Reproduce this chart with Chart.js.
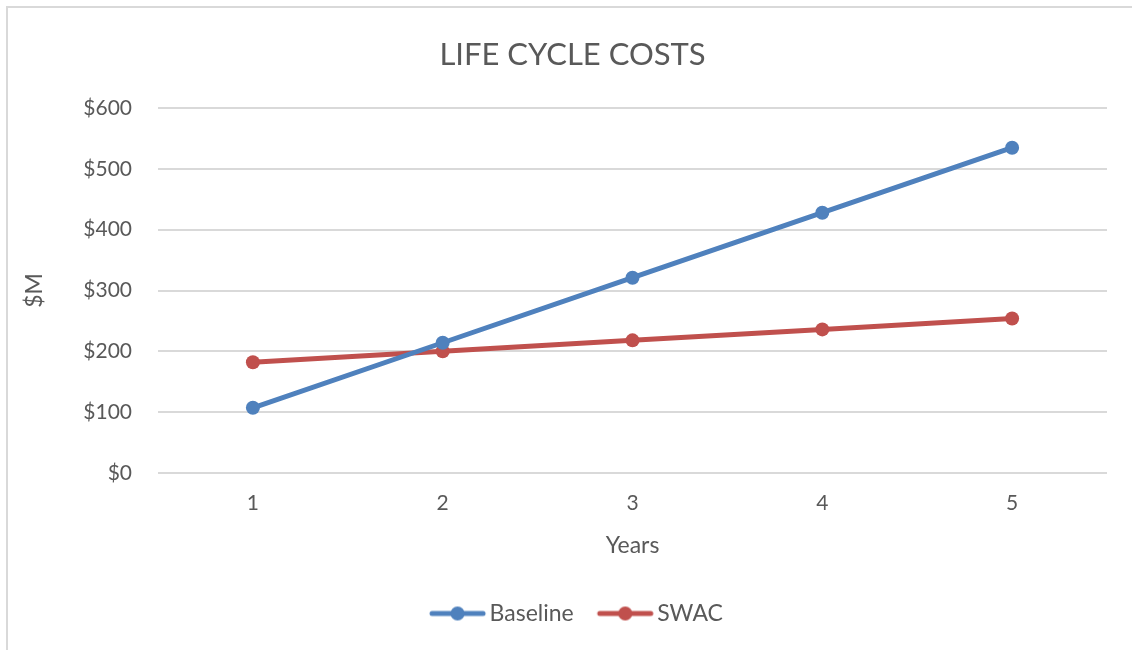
<!DOCTYPE html>
<html>
<head>
<meta charset="utf-8">
<script src="https://cdn.jsdelivr.net/npm/chart.js@4.4.1/dist/chart.umd.min.js"></script>
<style>
  html, body { margin:0; padding:0; background:#fff; }
  #wrap { position:relative; width:1132px; height:650px; overflow:hidden; }
  #frame { position:absolute; left:6px; top:6px; width:1200px; height:700px;
           border-left:2px solid #d9d9d9; border-top:2px solid #d9d9d9; }
  #chart { position:absolute; left:0; top:0; }
</style>
</head>
<body>
<div id="wrap">
  <div id="frame"></div>
  <canvas id="chart" width="1132" height="650"></canvas>
</div>
<script>
// data ($M)
const years = ['1', '2', '3', '4', '5'];
const baseline = [107, 214, 321, 428, 535];
const swac = [182, 200, 218, 236, 254];
const yMin = 0, yMax = 600, yStep = 100;

const BLUE = '#4f81bd';
const RED = '#c0504d';
const TEXT = '#595959';
const GRID = '#d9d9d9';
const FONT = 'Lato, "Open Sans", sans-serif';

// legend marker: short line with a dot in the middle (blank on the left for item spacing)
function marker(color){
  const c = document.createElement('canvas');
  c.width = 80; c.height = 16;
  const g = c.getContext('2d');
  g.strokeStyle = color; g.lineWidth = 5; g.lineCap = 'round';
  g.beginPath(); g.moveTo(22, 8); g.lineTo(73, 8); g.stroke();
  g.fillStyle = color;
  g.beginPath(); g.arc(47.5, 8, 7, 0, Math.PI*2); g.fill();
  return c;
}

const ctx = document.getElementById('chart').getContext('2d');
new Chart(ctx, {
  type: 'line',
  data: {
    labels: years,
    datasets: [
      { label:'Baseline', data: baseline, borderColor: BLUE, backgroundColor: BLUE,
        pointBackgroundColor: BLUE, borderWidth: 5, pointRadius: 7, pointBorderWidth: 0, tension: 0 },
      { label:'SWAC', data: swac, borderColor: RED, backgroundColor: RED,
        pointBackgroundColor: RED, borderWidth: 5, pointRadius: 7, pointBorderWidth: 0, tension: 0 }
    ]
  },
  options: {
    responsive: false,
    animation: false,
    layout: { padding: { left: 38, right: 25, top: 0, bottom: 15 } },
    plugins: {
      tooltip: { enabled: false },
      title: {
        display: true, text: 'LIFE CYCLE COSTS', color: TEXT,
        font: { family: FONT, size: 31, weight: 'normal' },
        padding: { top: 36, bottom: 35 }
      },
      legend: {
        position: 'bottom',
        labels: {
          color: TEXT, font: { family: FONT, size: 23 },
          usePointStyle: true, pointStyleWidth: 56, padding: 16,
          generateLabels: (chart) => chart.data.datasets.map((ds, i) => ({
            text: ds.label, fontColor: TEXT, pointStyle: marker(ds.borderColor),
            datasetIndex: i, hidden: false, lineWidth: 0
          }))
        }
      }
    },
    scales: {
      x: {
        type: 'category', offset: true,
        grid: { display: false, drawTicks: false },
        border: { display: false },
        ticks: { color: TEXT, font: { family: FONT, size: 21 }, padding: 18 },
        title: { display: true, text: 'Years', color: TEXT,
                 font: { family: FONT, size: 23, lineHeight: 1 }, padding: { top: 0, bottom: 29 } }
      },
      y: {
        min: yMin, max: yMax,
        grid: { color: GRID, lineWidth: 2, drawTicks: false },
        border: { display: false },
        ticks: { stepSize: yStep, color: TEXT, font: { family: FONT, size: 21 }, padding: 26,
                 callback: (v) => '$' + v },
        title: { display: true, text: '$M', color: TEXT, font: { family: FONT, size: 23 }, padding: { top: -17, bottom: 4 } },
        afterFit: (s) => { s.width = 120; }
      }
    }
  }
});
</script>
</body>
</html>
